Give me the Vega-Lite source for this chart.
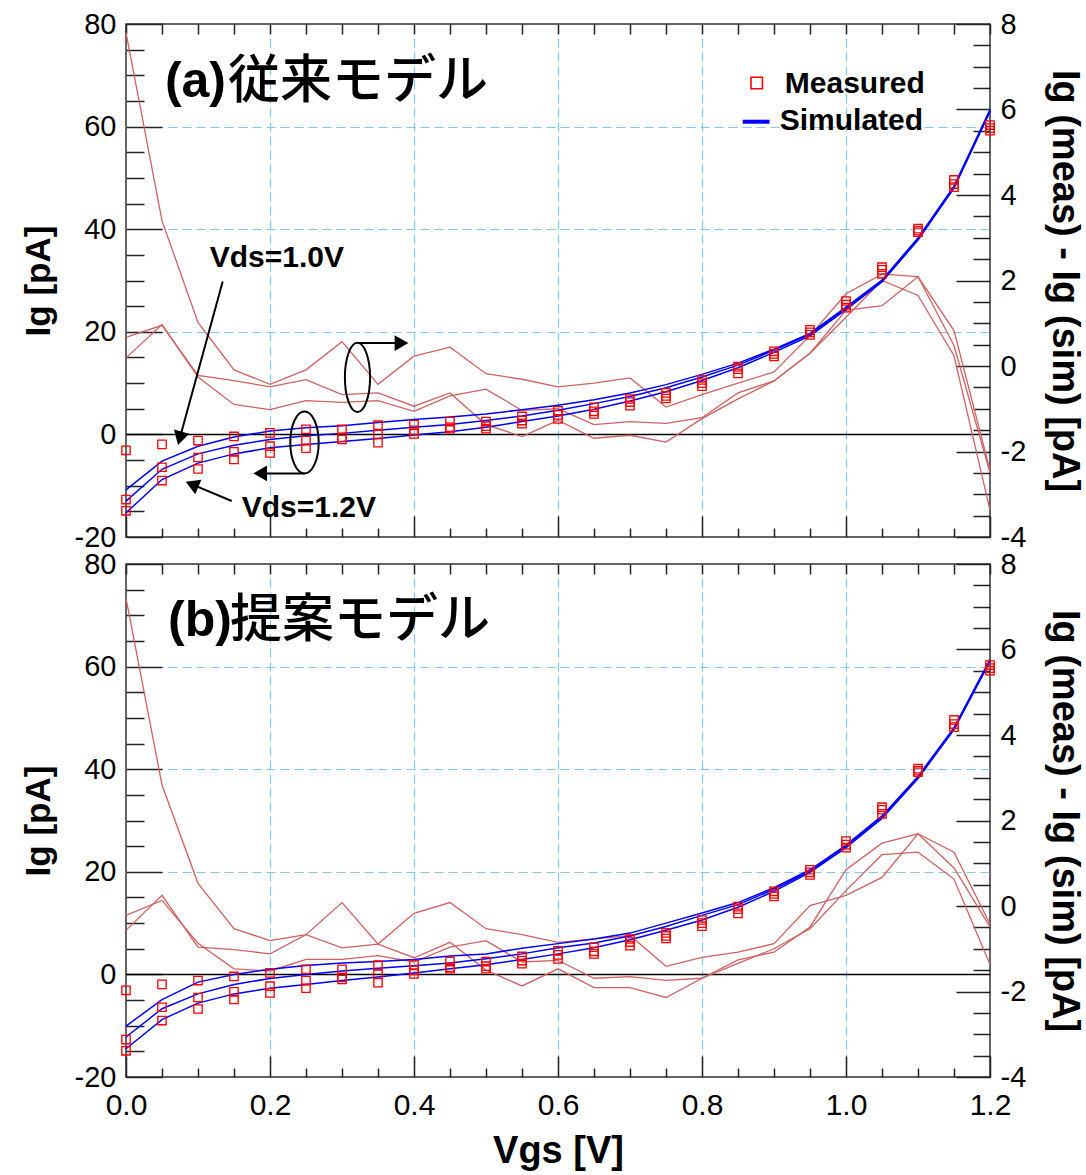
{
"$schema": "https://vega.github.io/schema/vega-lite/v6.json",
"padding": {"left": 20, "top": 9, "right": 5, "bottom": 5},
"background": "white",
"config": {
  "font": "Liberation Sans",
  "view": {"stroke": "#333333", "strokeWidth": 1.5},
  "axis": {"labelFont": "Liberation Sans", "titleFont": "Liberation Sans", "labelColor": "#000000", "titleColor": "#000000", "tickColor": "#222222", "tickWidth": 1.5, "domain": false, "labelOverlap": false, "labelFlush": false, "labelBound": false}
},
"datasets": {
"meas": [
{"s":1,"vgs":0,"ig":-3.1},{"s":1,"vgs":0.05,"ig":-1.95},{"s":1,"vgs":0.1,"ig":-1.2},{"s":1,"vgs":0.15,"ig":-0.4},{"s":1,"vgs":0.2,"ig":0.3},{"s":1,"vgs":0.25,"ig":1.0},{"s":1,"vgs":0.3,"ig":1.0},{"s":1,"vgs":0.35,"ig":1.8},{"s":1,"vgs":0.4,"ig":1.9},{"s":1,"vgs":0.45,"ig":2.5},{"s":1,"vgs":0.5,"ig":2.5},{"s":1,"vgs":0.55,"ig":3.5},{"s":1,"vgs":0.6,"ig":4.6},{"s":1,"vgs":0.65,"ig":5.3},{"s":1,"vgs":0.7,"ig":6.9},{"s":1,"vgs":0.75,"ig":8.1},{"s":1,"vgs":0.8,"ig":10.6},{"s":1,"vgs":0.85,"ig":13.2},{"s":1,"vgs":0.9,"ig":16.2},{"s":1,"vgs":0.95,"ig":20.4},{"s":1,"vgs":1,"ig":26.0},{"s":1,"vgs":1.05,"ig":32.6},{"s":1,"vgs":1.1,"ig":40.1},{"s":1,"vgs":1.15,"ig":49.6},{"s":1,"vgs":1.2,"ig":60.3},
{"s":2,"vgs":0,"ig":-12.7},{"s":2,"vgs":0.05,"ig":-6.4},{"s":2,"vgs":0.1,"ig":-4.5},{"s":2,"vgs":0.15,"ig":-3.4},{"s":2,"vgs":0.2,"ig":-2.3},{"s":2,"vgs":0.25,"ig":-1.2},{"s":2,"vgs":0.3,"ig":-0.6},{"s":2,"vgs":0.35,"ig":0.0},{"s":2,"vgs":0.4,"ig":0.8},{"s":2,"vgs":0.45,"ig":1.4},{"s":2,"vgs":0.5,"ig":1.6},{"s":2,"vgs":0.55,"ig":2.7},{"s":2,"vgs":0.6,"ig":3.8},{"s":2,"vgs":0.65,"ig":4.5},{"s":2,"vgs":0.7,"ig":6.3},{"s":2,"vgs":0.75,"ig":7.5},{"s":2,"vgs":0.8,"ig":10.0},{"s":2,"vgs":0.85,"ig":12.7},{"s":2,"vgs":0.9,"ig":15.7},{"s":2,"vgs":0.95,"ig":19.9},{"s":2,"vgs":1,"ig":25.3},{"s":2,"vgs":1.05,"ig":32.1},{"s":2,"vgs":1.1,"ig":39.7},{"s":2,"vgs":1.15,"ig":48.8},{"s":2,"vgs":1.2,"ig":59.7},
{"s":3,"vgs":0,"ig":-14.9},{"s":3,"vgs":0.05,"ig":-9.0},{"s":3,"vgs":0.1,"ig":-6.75},{"s":3,"vgs":0.15,"ig":-4.9},{"s":3,"vgs":0.2,"ig":-3.6},{"s":3,"vgs":0.25,"ig":-2.7},{"s":3,"vgs":0.3,"ig":-1.0},{"s":3,"vgs":0.35,"ig":-1.6},{"s":3,"vgs":0.4,"ig":0.1},{"s":3,"vgs":0.45,"ig":1.1},{"s":3,"vgs":0.5,"ig":1.1},{"s":3,"vgs":0.55,"ig":2.1},{"s":3,"vgs":0.6,"ig":3.0},{"s":3,"vgs":0.65,"ig":4.0},{"s":3,"vgs":0.7,"ig":5.6},{"s":3,"vgs":0.75,"ig":7.0},{"s":3,"vgs":0.8,"ig":9.4},{"s":3,"vgs":0.85,"ig":11.9},{"s":3,"vgs":0.9,"ig":15.2},{"s":3,"vgs":0.95,"ig":19.4},{"s":3,"vgs":1,"ig":24.7},{"s":3,"vgs":1.05,"ig":31.3},{"s":3,"vgs":1.1,"ig":39.4},{"s":3,"vgs":1.15,"ig":48.2},{"s":3,"vgs":1.2,"ig":59.2}
],
"sim": [
{"panel":"a","c":1,"vgs":0,"ig":-10.8},{"panel":"a","c":1,"vgs":0.05,"ig":-5.2},{"panel":"a","c":1,"vgs":0.1,"ig":-2.3},{"panel":"a","c":1,"vgs":0.15,"ig":-0.5},{"panel":"a","c":1,"vgs":0.2,"ig":0.65},{"panel":"a","c":1,"vgs":0.25,"ig":1.3},{"panel":"a","c":1,"vgs":0.3,"ig":1.7},{"panel":"a","c":1,"vgs":0.35,"ig":2.3},{"panel":"a","c":1,"vgs":0.4,"ig":2.9},{"panel":"a","c":1,"vgs":0.45,"ig":3.4},{"panel":"a","c":1,"vgs":0.5,"ig":4.0},{"panel":"a","c":1,"vgs":0.55,"ig":4.8},{"panel":"a","c":1,"vgs":0.6,"ig":5.7},{"panel":"a","c":1,"vgs":0.65,"ig":6.75},{"panel":"a","c":1,"vgs":0.7,"ig":8.05},{"panel":"a","c":1,"vgs":0.75,"ig":9.7},{"panel":"a","c":1,"vgs":0.8,"ig":11.7},{"panel":"a","c":1,"vgs":0.85,"ig":13.9},{"panel":"a","c":1,"vgs":0.9,"ig":16.6},{"panel":"a","c":1,"vgs":0.95,"ig":19.7},{"panel":"a","c":1,"vgs":1,"ig":24.8},{"panel":"a","c":1,"vgs":1.05,"ig":30.1},{"panel":"a","c":1,"vgs":1.1,"ig":38.3},{"panel":"a","c":1,"vgs":1.15,"ig":48.4},{"panel":"a","c":1,"vgs":1.2,"ig":63.3},
{"panel":"a","c":2,"vgs":0,"ig":-13.0},{"panel":"a","c":2,"vgs":0.05,"ig":-6.8},{"panel":"a","c":2,"vgs":0.1,"ig":-3.8},{"panel":"a","c":2,"vgs":0.15,"ig":-2.1},{"panel":"a","c":2,"vgs":0.2,"ig":-1.0},{"panel":"a","c":2,"vgs":0.25,"ig":-0.26},{"panel":"a","c":2,"vgs":0.3,"ig":0.2},{"panel":"a","c":2,"vgs":0.35,"ig":0.8},{"panel":"a","c":2,"vgs":0.4,"ig":1.4},{"panel":"a","c":2,"vgs":0.45,"ig":1.95},{"panel":"a","c":2,"vgs":0.5,"ig":2.7},{"panel":"a","c":2,"vgs":0.55,"ig":3.6},{"panel":"a","c":2,"vgs":0.6,"ig":4.7},{"panel":"a","c":2,"vgs":0.65,"ig":6.0},{"panel":"a","c":2,"vgs":0.7,"ig":7.4},{"panel":"a","c":2,"vgs":0.75,"ig":9.1},{"panel":"a","c":2,"vgs":0.8,"ig":11.2},{"panel":"a","c":2,"vgs":0.85,"ig":13.5},{"panel":"a","c":2,"vgs":0.9,"ig":16.4},{"panel":"a","c":2,"vgs":0.95,"ig":19.5},{"panel":"a","c":2,"vgs":1,"ig":24.5},{"panel":"a","c":2,"vgs":1.05,"ig":29.9},{"panel":"a","c":2,"vgs":1.1,"ig":38.1},{"panel":"a","c":2,"vgs":1.15,"ig":48.2},{"panel":"a","c":2,"vgs":1.2,"ig":63.1},
{"panel":"a","c":3,"vgs":0,"ig":-15.3},{"panel":"a","c":3,"vgs":0.05,"ig":-8.8},{"panel":"a","c":3,"vgs":0.1,"ig":-5.6},{"panel":"a","c":3,"vgs":0.15,"ig":-3.8},{"panel":"a","c":3,"vgs":0.2,"ig":-2.6},{"panel":"a","c":3,"vgs":0.25,"ig":-1.95},{"panel":"a","c":3,"vgs":0.3,"ig":-1.4},{"panel":"a","c":3,"vgs":0.35,"ig":-0.8},{"panel":"a","c":3,"vgs":0.4,"ig":-0.1},{"panel":"a","c":3,"vgs":0.45,"ig":0.5},{"panel":"a","c":3,"vgs":0.5,"ig":1.4},{"panel":"a","c":3,"vgs":0.55,"ig":2.5},{"panel":"a","c":3,"vgs":0.6,"ig":3.6},{"panel":"a","c":3,"vgs":0.65,"ig":4.9},{"panel":"a","c":3,"vgs":0.7,"ig":6.5},{"panel":"a","c":3,"vgs":0.75,"ig":8.3},{"panel":"a","c":3,"vgs":0.8,"ig":10.5},{"panel":"a","c":3,"vgs":0.85,"ig":13.0},{"panel":"a","c":3,"vgs":0.9,"ig":16.0},{"panel":"a","c":3,"vgs":0.95,"ig":19.2},{"panel":"a","c":3,"vgs":1,"ig":24.3},{"panel":"a","c":3,"vgs":1.05,"ig":29.7},{"panel":"a","c":3,"vgs":1.1,"ig":37.9},{"panel":"a","c":3,"vgs":1.15,"ig":48.0},{"panel":"a","c":3,"vgs":1.2,"ig":62.9},
{"panel":"b","c":1,"vgs":0,"ig":-10.1},{"panel":"b","c":1,"vgs":0.05,"ig":-4.9},{"panel":"b","c":1,"vgs":0.1,"ig":-1.5},{"panel":"b","c":1,"vgs":0.15,"ig":0.0},{"panel":"b","c":1,"vgs":0.2,"ig":1.0},{"panel":"b","c":1,"vgs":0.25,"ig":1.75},{"panel":"b","c":1,"vgs":0.3,"ig":2.2},{"panel":"b","c":1,"vgs":0.35,"ig":2.5},{"panel":"b","c":1,"vgs":0.4,"ig":2.9},{"panel":"b","c":1,"vgs":0.45,"ig":3.6},{"panel":"b","c":1,"vgs":0.5,"ig":4.0},{"panel":"b","c":1,"vgs":0.55,"ig":5.1},{"panel":"b","c":1,"vgs":0.6,"ig":6.0},{"panel":"b","c":1,"vgs":0.65,"ig":6.9},{"panel":"b","c":1,"vgs":0.7,"ig":8.05},{"panel":"b","c":1,"vgs":0.75,"ig":10.0},{"panel":"b","c":1,"vgs":0.8,"ig":11.95},{"panel":"b","c":1,"vgs":0.85,"ig":14.0},{"panel":"b","c":1,"vgs":0.9,"ig":16.9},{"panel":"b","c":1,"vgs":0.95,"ig":20.4},{"panel":"b","c":1,"vgs":1,"ig":25.2},{"panel":"b","c":1,"vgs":1.05,"ig":30.9},{"panel":"b","c":1,"vgs":1.1,"ig":38.6},{"panel":"b","c":1,"vgs":1.15,"ig":48.1},{"panel":"b","c":1,"vgs":1.2,"ig":61.4},
{"panel":"b","c":2,"vgs":0,"ig":-12.2},{"panel":"b","c":2,"vgs":0.05,"ig":-6.7},{"panel":"b","c":2,"vgs":0.1,"ig":-3.8},{"panel":"b","c":2,"vgs":0.15,"ig":-1.95},{"panel":"b","c":2,"vgs":0.2,"ig":-0.8},{"panel":"b","c":2,"vgs":0.25,"ig":0.0},{"panel":"b","c":2,"vgs":0.3,"ig":0.65},{"panel":"b","c":2,"vgs":0.35,"ig":1.2},{"panel":"b","c":2,"vgs":0.4,"ig":1.7},{"panel":"b","c":2,"vgs":0.45,"ig":2.2},{"panel":"b","c":2,"vgs":0.5,"ig":3.05},{"panel":"b","c":2,"vgs":0.55,"ig":4.0},{"panel":"b","c":2,"vgs":0.6,"ig":5.2},{"panel":"b","c":2,"vgs":0.65,"ig":6.1},{"panel":"b","c":2,"vgs":0.7,"ig":7.5},{"panel":"b","c":2,"vgs":0.75,"ig":9.35},{"panel":"b","c":2,"vgs":0.8,"ig":11.5},{"panel":"b","c":2,"vgs":0.85,"ig":13.6},{"panel":"b","c":2,"vgs":0.9,"ig":16.6},{"panel":"b","c":2,"vgs":0.95,"ig":20.1},{"panel":"b","c":2,"vgs":1,"ig":24.9},{"panel":"b","c":2,"vgs":1.05,"ig":30.6},{"panel":"b","c":2,"vgs":1.1,"ig":38.4},{"panel":"b","c":2,"vgs":1.15,"ig":47.9},{"panel":"b","c":2,"vgs":1.2,"ig":61.2},
{"panel":"b","c":3,"vgs":0,"ig":-14.5},{"panel":"b","c":3,"vgs":0.05,"ig":-8.8},{"panel":"b","c":3,"vgs":0.1,"ig":-5.6},{"panel":"b","c":3,"vgs":0.15,"ig":-3.8},{"panel":"b","c":3,"vgs":0.2,"ig":-2.7},{"panel":"b","c":3,"vgs":0.25,"ig":-1.95},{"panel":"b","c":3,"vgs":0.3,"ig":-1.2},{"panel":"b","c":3,"vgs":0.35,"ig":-0.5},{"panel":"b","c":3,"vgs":0.4,"ig":0.26},{"panel":"b","c":3,"vgs":0.45,"ig":1.1},{"panel":"b","c":3,"vgs":0.5,"ig":1.9},{"panel":"b","c":3,"vgs":0.55,"ig":2.9},{"panel":"b","c":3,"vgs":0.6,"ig":4.0},{"panel":"b","c":3,"vgs":0.65,"ig":5.2},{"panel":"b","c":3,"vgs":0.7,"ig":6.75},{"panel":"b","c":3,"vgs":0.75,"ig":8.6},{"panel":"b","c":3,"vgs":0.8,"ig":10.6},{"panel":"b","c":3,"vgs":0.85,"ig":13.1},{"panel":"b","c":3,"vgs":0.9,"ig":16.2},{"panel":"b","c":3,"vgs":0.95,"ig":19.9},{"panel":"b","c":3,"vgs":1,"ig":24.7},{"panel":"b","c":3,"vgs":1.05,"ig":30.4},{"panel":"b","c":3,"vgs":1.1,"ig":38.2},{"panel":"b","c":3,"vgs":1.15,"ig":47.7},{"panel":"b","c":3,"vgs":1.2,"ig":61.0}
],
"diff": [
{"panel":"a","c":1,"vgs":0,"d":7.8},{"panel":"a","c":1,"vgs":0.05,"d":3.4},{"panel":"a","c":1,"vgs":0.1,"d":1.02},{"panel":"a","c":1,"vgs":0.15,"d":-0.09},{"panel":"a","c":1,"vgs":0.2,"d":-0.43},{"panel":"a","c":1,"vgs":0.25,"d":-0.09},{"panel":"a","c":1,"vgs":0.3,"d":0.57},{"panel":"a","c":1,"vgs":0.35,"d":-0.43},{"panel":"a","c":1,"vgs":0.4,"d":0.23},{"panel":"a","c":1,"vgs":0.45,"d":0.44},{"panel":"a","c":1,"vgs":0.5,"d":-0.18},{"panel":"a","c":1,"vgs":0.55,"d":-0.31},{"panel":"a","c":1,"vgs":0.6,"d":-0.49},{"panel":"a","c":1,"vgs":0.65,"d":-0.4},{"panel":"a","c":1,"vgs":0.7,"d":-0.28},{"panel":"a","c":1,"vgs":0.75,"d":-0.96},{"panel":"a","c":1,"vgs":0.8,"d":-0.67},{"panel":"a","c":1,"vgs":0.85,"d":-0.4},{"panel":"a","c":1,"vgs":0.9,"d":-0.14},{"panel":"a","c":1,"vgs":0.95,"d":0.71},{"panel":"a","c":1,"vgs":1,"d":1.69},{"panel":"a","c":1,"vgs":1.05,"d":2.15},{"panel":"a","c":1,"vgs":1.1,"d":2.09},{"panel":"a","c":1,"vgs":1.15,"d":0.83},{"panel":"a","c":1,"vgs":1.2,"d":-2.44},
{"panel":"a","c":2,"vgs":0,"d":0.67},{"panel":"a","c":2,"vgs":0.05,"d":0.95},{"panel":"a","c":2,"vgs":0.1,"d":-0.22},{"panel":"a","c":2,"vgs":0.15,"d":-0.34},{"panel":"a","c":2,"vgs":0.2,"d":-0.49},{"panel":"a","c":2,"vgs":0.25,"d":-0.32},{"panel":"a","c":2,"vgs":0.3,"d":-0.67},{"panel":"a","c":2,"vgs":0.35,"d":-0.63},{"panel":"a","c":2,"vgs":0.4,"d":-0.94},{"panel":"a","c":2,"vgs":0.45,"d":-0.63},{"panel":"a","c":2,"vgs":0.5,"d":-1.37},{"panel":"a","c":2,"vgs":0.55,"d":-1.65},{"panel":"a","c":2,"vgs":0.6,"d":-1.27},{"panel":"a","c":2,"vgs":0.65,"d":-1.69},{"panel":"a","c":2,"vgs":0.7,"d":-1.62},{"panel":"a","c":2,"vgs":0.75,"d":-1.78},{"panel":"a","c":2,"vgs":0.8,"d":-1.23},{"panel":"a","c":2,"vgs":0.85,"d":-0.77},{"panel":"a","c":2,"vgs":0.9,"d":-0.35},{"panel":"a","c":2,"vgs":0.95,"d":0.3},{"panel":"a","c":2,"vgs":1,"d":1.14},{"panel":"a","c":2,"vgs":1.05,"d":2.0},{"panel":"a","c":2,"vgs":1.1,"d":1.65},{"panel":"a","c":2,"vgs":1.15,"d":0.24},{"panel":"a","c":2,"vgs":1.2,"d":-3.37},
{"panel":"a","c":3,"vgs":0,"d":0.19},{"panel":"a","c":3,"vgs":0.05,"d":0.97},{"panel":"a","c":3,"vgs":0.1,"d":-0.26},{"panel":"a","c":3,"vgs":0.15,"d":-0.9},{"panel":"a","c":3,"vgs":0.2,"d":-1.02},{"panel":"a","c":3,"vgs":0.25,"d":-0.81},{"panel":"a","c":3,"vgs":0.3,"d":-0.85},{"panel":"a","c":3,"vgs":0.35,"d":-0.81},{"panel":"a","c":3,"vgs":0.4,"d":-1.06},{"panel":"a","c":3,"vgs":0.45,"d":-0.7},{"panel":"a","c":3,"vgs":0.5,"d":-0.54},{"panel":"a","c":3,"vgs":0.55,"d":-1.04},{"panel":"a","c":3,"vgs":0.6,"d":-1.0},{"panel":"a","c":3,"vgs":0.65,"d":-1.37},{"panel":"a","c":3,"vgs":0.7,"d":-1.3},{"panel":"a","c":3,"vgs":0.75,"d":-1.34},{"panel":"a","c":3,"vgs":0.8,"d":-1.21},{"panel":"a","c":3,"vgs":0.85,"d":-0.63},{"panel":"a","c":3,"vgs":0.9,"d":-0.35},{"panel":"a","c":3,"vgs":0.95,"d":0.3},{"panel":"a","c":3,"vgs":1,"d":1.3},{"panel":"a","c":3,"vgs":1.05,"d":1.41},{"panel":"a","c":3,"vgs":1.1,"d":2.09},{"panel":"a","c":3,"vgs":1.15,"d":0.48},{"panel":"a","c":3,"vgs":1.2,"d":-2.5},
{"panel":"b","c":1,"vgs":0,"d":7.2},{"panel":"b","c":1,"vgs":0.05,"d":2.83},{"panel":"b","c":1,"vgs":0.1,"d":0.53},{"panel":"b","c":1,"vgs":0.15,"d":-0.53},{"panel":"b","c":1,"vgs":0.2,"d":-0.81},{"panel":"b","c":1,"vgs":0.25,"d":-0.67},{"panel":"b","c":1,"vgs":0.3,"d":0.08},{"panel":"b","c":1,"vgs":0.35,"d":-0.89},{"panel":"b","c":1,"vgs":0.4,"d":-0.17},{"panel":"b","c":1,"vgs":0.45,"d":0.08},{"panel":"b","c":1,"vgs":0.5,"d":-0.53},{"panel":"b","c":1,"vgs":0.55,"d":-0.67},{"panel":"b","c":1,"vgs":0.6,"d":-0.85},{"panel":"b","c":1,"vgs":0.65,"d":-0.77},{"panel":"b","c":1,"vgs":0.7,"d":-0.69},{"panel":"b","c":1,"vgs":0.75,"d":-1.41},{"panel":"b","c":1,"vgs":0.8,"d":-1.2},{"panel":"b","c":1,"vgs":0.85,"d":-1.08},{"panel":"b","c":1,"vgs":0.9,"d":-0.88},{"panel":"b","c":1,"vgs":0.95,"d":0.01},{"panel":"b","c":1,"vgs":1,"d":0.25},{"panel":"b","c":1,"vgs":1.05,"d":0.67},{"panel":"b","c":1,"vgs":1.1,"d":1.69},{"panel":"b","c":1,"vgs":1.15,"d":1.26},{"panel":"b","c":1,"vgs":1.2,"d":-0.42},
{"panel":"b","c":2,"vgs":0,"d":-0.22},{"panel":"b","c":2,"vgs":0.05,"d":0.13},{"panel":"b","c":2,"vgs":0.1,"d":-0.87},{"panel":"b","c":2,"vgs":0.15,"d":-1.47},{"panel":"b","c":2,"vgs":0.2,"d":-1.52},{"panel":"b","c":2,"vgs":0.25,"d":-1.25},{"panel":"b","c":2,"vgs":0.3,"d":-1.25},{"panel":"b","c":2,"vgs":0.35,"d":-1.16},{"panel":"b","c":2,"vgs":0.4,"d":-1.31},{"panel":"b","c":2,"vgs":0.45,"d":-0.96},{"panel":"b","c":2,"vgs":0.5,"d":-0.81},{"panel":"b","c":2,"vgs":0.55,"d":-1.31},{"panel":"b","c":2,"vgs":0.6,"d":-1.27},{"panel":"b","c":2,"vgs":0.65,"d":-1.69},{"panel":"b","c":2,"vgs":0.7,"d":-1.65},{"panel":"b","c":2,"vgs":0.75,"d":-1.74},{"panel":"b","c":2,"vgs":0.8,"d":-1.69},{"panel":"b","c":2,"vgs":0.85,"d":-1.26},{"panel":"b","c":2,"vgs":0.9,"d":-1.08},{"panel":"b","c":2,"vgs":0.95,"d":-0.49},{"panel":"b","c":2,"vgs":1,"d":0.85},{"panel":"b","c":2,"vgs":1.05,"d":1.47},{"panel":"b","c":2,"vgs":1.1,"d":1.69},{"panel":"b","c":2,"vgs":1.15,"d":0.89},{"panel":"b","c":2,"vgs":1.2,"d":-0.49},
{"panel":"b","c":3,"vgs":0,"d":-0.57},{"panel":"b","c":3,"vgs":0.05,"d":0.25},{"panel":"b","c":3,"vgs":0.1,"d":-0.96},{"panel":"b","c":3,"vgs":0.15,"d":-1.02},{"panel":"b","c":3,"vgs":0.2,"d":-1.12},{"panel":"b","c":3,"vgs":0.25,"d":-0.67},{"panel":"b","c":3,"vgs":0.3,"d":-0.98},{"panel":"b","c":3,"vgs":0.35,"d":-0.89},{"panel":"b","c":3,"vgs":0.4,"d":-1.21},{"panel":"b","c":3,"vgs":0.45,"d":-0.85},{"panel":"b","c":3,"vgs":0.5,"d":-1.5},{"panel":"b","c":3,"vgs":0.55,"d":-1.87},{"panel":"b","c":3,"vgs":0.6,"d":-1.47},{"panel":"b","c":3,"vgs":0.65,"d":-1.91},{"panel":"b","c":3,"vgs":0.7,"d":-1.91},{"panel":"b","c":3,"vgs":0.75,"d":-2.14},{"panel":"b","c":3,"vgs":0.8,"d":-1.69},{"panel":"b","c":3,"vgs":0.85,"d":-1.34},{"panel":"b","c":3,"vgs":0.9,"d":-1.0},{"panel":"b","c":3,"vgs":0.95,"d":-0.53},{"panel":"b","c":3,"vgs":1,"d":0.36},{"panel":"b","c":3,"vgs":1.05,"d":1.2},{"panel":"b","c":3,"vgs":1.1,"d":1.26},{"panel":"b","c":3,"vgs":1.15,"d":0.63},{"panel":"b","c":3,"vgs":1.2,"d":-1.37}
]
},
"spacing": 27,
"bounds": "flush",
"vconcat": [
{
 "width": 864, "height": 513,
 "layer": [
   {"data": {"values": [{"ig": 0}]}, "mark": {"type": "rule", "color": "#000000", "strokeWidth": 1.5},
    "encoding": {"y": {"field": "ig", "type": "quantitative", "scale": {"domain": [-20, 80], "nice": false, "zero": false},
      "axis": {"orient": "left", "values": [-20,-15,-10,-5,0,5,10,15,20,25,30,35,40,45,50,55,60,65,70,75,80],
       "labelExpr": "datum.value % 20 === 0 ? toString(datum.value) : ''", "labelFontSize": 29, "labelPadding": 46,
       "tickSize": {"condition": {"test": "datum.value % 20 === 0", "value": -36}, "value": -18},
       "grid": true, "gridColor": "#80c8f0", "gridDash": [9, 5], "gridWidth": 1.2,
       "gridOpacity": {"condition": {"test": "datum.value === 20 || datum.value === 40 || datum.value === 60", "value": 1}, "value": 0},
       "title": "Ig [pA]", "titleFontSize": 35, "titleFontWeight": "bold", "titlePadding": 18}}}},
   {"data": {"name": "diff"}, "transform": [{"filter": "datum.panel === 'a'"}],
    "mark": {"type": "line", "color": "#d06262", "strokeWidth": 1.3},
    "encoding": {
     "x": {"field": "vgs", "type": "quantitative", "scale": {"domain": [0, 1.2], "nice": false, "zero": false},
      "axis": {"orient": "top", "values": [0,0.05,0.1,0.15,0.2,0.25,0.3,0.35,0.4,0.45,0.5,0.55,0.6,0.65,0.7,0.75,0.8,0.85,0.9,0.95,1,1.05,1.1,1.15,1.2], "labels": false, "title": null, "tickSize": -10, "grid": false}},
     "y": {"field": "d", "type": "quantitative", "scale": {"domain": [-4, 8], "nice": false, "zero": false},
      "axis": {"orient": "right", "values": [-4,-3.5,-3,-2.5,-2,-1.5,-1,-0.5,0,0.5,1,1.5,2,2.5,3,3.5,4,4.5,5,5.5,6,6.5,7,7.5,8],
       "labelExpr": "datum.value % 2 === 0 ? toString(datum.value) : ''", "labelFontSize": 29, "labelPadding": 44,
       "tickSize": {"condition": {"test": "datum.value % 2 === 0", "value": -34}, "value": -17},
       "grid": false, "title": "Ig (meas) - Ig (sim) [pA]", "titleFontSize": 38, "titleFontWeight": "bold", "titlePadding": 19}},
     "detail": {"field": "c", "type": "nominal"}}},
   {"data": {"name": "sim"}, "transform": [{"filter": "datum.panel === 'a'"}],
    "mark": {"type": "line", "color": "#0000ff", "strokeWidth": 1.5},
    "encoding": {
     "x": {"field": "vgs", "type": "quantitative", "scale": {"domain": [0, 1.2], "nice": false, "zero": false},
      "axis": {"orient": "bottom", "values": [0,0.05,0.1,0.15,0.2,0.25,0.3,0.35,0.4,0.45,0.5,0.55,0.6,0.65,0.7,0.75,0.8,0.85,0.9,0.95,1,1.05,1.1,1.15,1.2],
       "labels": false, "title": null,
       "tickSize": {"condition": {"test": "datum.value==0||datum.value==0.2||datum.value==0.4||datum.value==0.6||datum.value==0.8||datum.value==1||datum.value==1.2", "value": -21}, "value": -9},
       "grid": true, "gridColor": "#80c8f0", "gridDash": [9, 5], "gridWidth": 1.2,
       "gridOpacity": {"condition": {"test": "datum.value==0.2||datum.value==0.4||datum.value==0.6||datum.value==0.8||datum.value==1", "value": 1}, "value": 0}}},
     "y": {"field": "ig", "type": "quantitative", "scale": {"domain": [-20, 80], "nice": false, "zero": false}, "axis": null},
     "detail": {"field": "c", "type": "nominal"}}},
   {"data": {"name": "meas"},
    "mark": {"type": "point", "shape": "square", "filled": false, "color": "#ff0000", "size": 70, "strokeWidth": 1.3, "opacity": 1},
    "encoding": {
     "x": {"field": "vgs", "type": "quantitative", "axis": null},
     "y": {"field": "ig", "type": "quantitative", "scale": {"domain": [-20, 80], "nice": false, "zero": false}, "axis": null},
     "detail": {"field": "s", "type": "nominal"}}},
   {"data": {"values": [{"vgs": 0.3215, "ig": 11.1}]},
    "mark": {"type": "point", "shape": "M0,-1C0.201,-1,0.364,-0.552,0.364,0C0.364,0.552,0.201,1,0,1C-0.201,1,-0.364,0.552,-0.364,0C-0.364,-0.552,-0.201,-1,0,-1Z", "size": 4789, "filled": false, "stroke": "#000000", "strokeWidth": 2, "opacity": 1},
    "encoding": {"x": {"field": "vgs", "type": "quantitative", "axis": null}, "y": {"field": "ig", "type": "quantitative", "scale": {"domain": [-20, 80], "nice": false, "zero": false}, "axis": null}}},
   {"data": {"values": [{"vgs": 0.2479, "ig": -1.56}]},
    "mark": {"type": "point", "shape": "M0,-1C0.253,-1,0.458,-0.552,0.458,0C0.458,0.552,0.253,1,0,1C-0.253,1,-0.458,0.552,-0.458,0C-0.458,-0.552,-0.253,-1,0,-1Z", "size": 3844, "filled": false, "stroke": "#000000", "strokeWidth": 2, "opacity": 1},
    "encoding": {"x": {"field": "vgs", "type": "quantitative", "axis": null}, "y": {"field": "ig", "type": "quantitative", "scale": {"domain": [-20, 80], "nice": false, "zero": false}, "axis": null}}},
   {"data": {"values": [
     {"vgs": 0.1343, "ig": 29.8, "vgs2": 0.0747, "ig2": -0.76},
     {"vgs": 0.1468, "ig": -12.99, "vgs2": 0.0917, "ig2": -9.74},
     {"vgs": 0.3215, "ig": 17.8, "vgs2": 0.385, "ig2": 17.8},
     {"vgs": 0.2479, "ig": -7.6, "vgs2": 0.184, "ig2": -7.6}]},
    "mark": {"type": "rule", "color": "#000000", "strokeWidth": 2},
    "encoding": {"x": {"field": "vgs", "type": "quantitative", "axis": null}, "y": {"field": "ig", "type": "quantitative", "scale": {"domain": [-20, 80], "nice": false, "zero": false}, "axis": null},
     "x2": {"field": "vgs2"}, "y2": {"field": "ig2"}}},
   {"data": {"values": [{"vgs": 0.0747, "ig": -0.76}]},
    "mark": {"type": "point", "shape": "triangle-up", "angle": 195.2, "size": 250, "filled": true, "color": "#000000", "opacity": 1},
    "encoding": {"x": {"field": "vgs", "type": "quantitative", "axis": null}, "y": {"field": "ig", "type": "quantitative", "scale": {"domain": [-20, 80], "nice": false, "zero": false}, "axis": null}}},
   {"data": {"values": [{"vgs": 0.0917, "ig": -9.74}]},
    "mark": {"type": "point", "shape": "triangle-up", "angle": 292.9, "size": 250, "filled": true, "color": "#000000", "opacity": 1},
    "encoding": {"x": {"field": "vgs", "type": "quantitative", "axis": null}, "y": {"field": "ig", "type": "quantitative", "scale": {"domain": [-20, 80], "nice": false, "zero": false}, "axis": null}}},
   {"data": {"values": [{"vgs": 0.3826, "ig": 17.8}]},
    "mark": {"type": "point", "shape": "triangle-up", "angle": 90, "size": 250, "filled": true, "color": "#000000", "opacity": 1},
    "encoding": {"x": {"field": "vgs", "type": "quantitative", "axis": null}, "y": {"field": "ig", "type": "quantitative", "scale": {"domain": [-20, 80], "nice": false, "zero": false}, "axis": null}}},
   {"data": {"values": [{"vgs": 0.1864, "ig": -7.6}]},
    "mark": {"type": "point", "shape": "triangle-up", "angle": 270, "size": 250, "filled": true, "color": "#000000", "opacity": 1},
    "encoding": {"x": {"field": "vgs", "type": "quantitative", "axis": null}, "y": {"field": "ig", "type": "quantitative", "scale": {"domain": [-20, 80], "nice": false, "zero": false}, "axis": null}}},
   {"data": {"values": [
     {"vgs": 0.054, "ig": 68.7, "t": "(a)"},
     {"vgs": 0.1163, "ig": 34.3, "t": "Vds=1.0V"},
     {"vgs": 0.1607, "ig": -14.3, "t": "Vds=1.2V"}]},
    "mark": {"type": "text", "font": "Liberation Sans", "fontWeight": "bold", "align": "left", "baseline": "middle", "color": "#000000"},
    "encoding": {"x": {"field": "vgs", "type": "quantitative", "axis": null}, "y": {"field": "ig", "type": "quantitative", "scale": {"domain": [-20, 80], "nice": false, "zero": false}, "axis": null}, "text": {"field": "t"},
     "size": {"condition": {"test": "datum.t === '(a)'", "value": 50}, "value": 30}}},
   {"data": {"values": [{"vgs": 0.1417, "ig": 68.7, "t": "従来モデル"}]},
    "mark": {"type": "text", "font": "Noto Sans CJK JP", "fontWeight": 500, "fontSize": 52, "align": "left", "baseline": "middle", "color": "#000000"},
    "encoding": {"x": {"field": "vgs", "type": "quantitative", "axis": null}, "y": {"field": "ig", "type": "quantitative", "scale": {"domain": [-20, 80], "nice": false, "zero": false}, "axis": null}, "text": {"field": "t"}}},
   {"data": {"values": [{"vgs": 0.915, "ig": 68.4, "t": "Measured"}, {"vgs": 0.908, "ig": 61.0, "t": "Simulated"}]},
    "mark": {"type": "text", "font": "Liberation Sans", "fontWeight": "bold", "fontSize": 30, "align": "left", "baseline": "middle", "color": "#000000"},
    "encoding": {"x": {"field": "vgs", "type": "quantitative", "axis": null}, "y": {"field": "ig", "type": "quantitative", "scale": {"domain": [-20, 80], "nice": false, "zero": false}, "axis": null}, "text": {"field": "t"}}},
   {"data": {"values": [{"vgs": 0.876, "ig": 68.5}]},
    "mark": {"type": "point", "shape": "square", "filled": false, "color": "#ff0000", "size": 130, "strokeWidth": 1.6, "opacity": 1},
    "encoding": {"x": {"field": "vgs", "type": "quantitative", "axis": null}, "y": {"field": "ig", "type": "quantitative", "scale": {"domain": [-20, 80], "nice": false, "zero": false}, "axis": null}}},
   {"data": {"values": [{"vgs": 0.8565, "vgs2": 0.8938, "ig": 60.95}]},
    "mark": {"type": "rule", "color": "#0000ff", "strokeWidth": 4},
    "encoding": {"x": {"field": "vgs", "type": "quantitative", "axis": null}, "x2": {"field": "vgs2"}, "y": {"field": "ig", "type": "quantitative", "scale": {"domain": [-20, 80], "nice": false, "zero": false}, "axis": null}}}
 ],
 "resolve": {"scale": {"y": "independent"}, "axis": {"x": "independent", "y": "independent"}}
},
{
 "width": 864, "height": 513,
 "layer": [
   {"data": {"values": [{"ig": 0}]}, "mark": {"type": "rule", "color": "#000000", "strokeWidth": 1.5},
    "encoding": {"y": {"field": "ig", "type": "quantitative", "scale": {"domain": [-20, 80], "nice": false, "zero": false},
      "axis": {"orient": "left", "values": [-20,-15,-10,-5,0,5,10,15,20,25,30,35,40,45,50,55,60,65,70,75,80],
       "labelExpr": "datum.value % 20 === 0 ? toString(datum.value) : ''", "labelFontSize": 29, "labelPadding": 46,
       "tickSize": {"condition": {"test": "datum.value % 20 === 0", "value": -36}, "value": -18},
       "grid": true, "gridColor": "#80c8f0", "gridDash": [9, 5], "gridWidth": 1.2,
       "gridOpacity": {"condition": {"test": "datum.value === 20 || datum.value === 40 || datum.value === 60", "value": 1}, "value": 0},
       "title": "Ig [pA]", "titleFontSize": 35, "titleFontWeight": "bold", "titlePadding": 18}}}},
   {"data": {"name": "diff"}, "transform": [{"filter": "datum.panel === 'b'"}],
    "mark": {"type": "line", "color": "#d06262", "strokeWidth": 1.3},
    "encoding": {
     "x": {"field": "vgs", "type": "quantitative", "scale": {"domain": [0, 1.2], "nice": false, "zero": false},
      "axis": {"orient": "top", "values": [0,0.05,0.1,0.15,0.2,0.25,0.3,0.35,0.4,0.45,0.5,0.55,0.6,0.65,0.7,0.75,0.8,0.85,0.9,0.95,1,1.05,1.1,1.15,1.2], "labels": false, "title": null, "tickSize": -10, "grid": false}},
     "y": {"field": "d", "type": "quantitative", "scale": {"domain": [-4, 8], "nice": false, "zero": false},
      "axis": {"orient": "right", "values": [-4,-3.5,-3,-2.5,-2,-1.5,-1,-0.5,0,0.5,1,1.5,2,2.5,3,3.5,4,4.5,5,5.5,6,6.5,7,7.5,8],
       "labelExpr": "datum.value % 2 === 0 ? toString(datum.value) : ''", "labelFontSize": 29, "labelPadding": 44,
       "tickSize": {"condition": {"test": "datum.value % 2 === 0", "value": -34}, "value": -17},
       "grid": false, "title": "Ig (meas) - Ig (sim) [pA]", "titleFontSize": 38, "titleFontWeight": "bold", "titlePadding": 19}},
     "detail": {"field": "c", "type": "nominal"}}},
   {"data": {"name": "sim"}, "transform": [{"filter": "datum.panel === 'b'"}],
    "mark": {"type": "line", "color": "#0000ff", "strokeWidth": 1.5},
    "encoding": {
     "x": {"field": "vgs", "type": "quantitative", "scale": {"domain": [0, 1.2], "nice": false, "zero": false},
      "axis": {"orient": "bottom", "values": [0,0.05,0.1,0.15,0.2,0.25,0.3,0.35,0.4,0.45,0.5,0.55,0.6,0.65,0.7,0.75,0.8,0.85,0.9,0.95,1,1.05,1.1,1.15,1.2],
       "labelExpr": "(datum.value==0||datum.value==0.2||datum.value==0.4||datum.value==0.6||datum.value==0.8||datum.value==1||datum.value==1.2) ? format(datum.value, '.1f') : ''",
       "labelFontSize": 30, "labelPadding": 34,
       "tickSize": {"condition": {"test": "datum.value==0||datum.value==0.2||datum.value==0.4||datum.value==0.6||datum.value==0.8||datum.value==1||datum.value==1.2", "value": -21}, "value": -9},
       "grid": true, "gridColor": "#80c8f0", "gridDash": [9, 5], "gridWidth": 1.2,
       "gridOpacity": {"condition": {"test": "datum.value==0.2||datum.value==0.4||datum.value==0.6||datum.value==0.8||datum.value==1", "value": 1}, "value": 0},
       "title": "Vgs [V]", "titleFontSize": 38, "titleFontWeight": "bold", "titlePadding": 0}},
     "y": {"field": "ig", "type": "quantitative", "scale": {"domain": [-20, 80], "nice": false, "zero": false}, "axis": null},
     "detail": {"field": "c", "type": "nominal"}}},
   {"data": {"name": "meas"},
    "mark": {"type": "point", "shape": "square", "filled": false, "color": "#ff0000", "size": 70, "strokeWidth": 1.3, "opacity": 1},
    "encoding": {
     "x": {"field": "vgs", "type": "quantitative", "axis": null},
     "y": {"field": "ig", "type": "quantitative", "scale": {"domain": [-20, 80], "nice": false, "zero": false}, "axis": null},
     "detail": {"field": "s", "type": "nominal"}}},
   {"data": {"values": [{"vgs": 0.0583, "ig": 68.9, "t": "(b)"}]},
    "mark": {"type": "text", "font": "Liberation Sans", "fontWeight": "bold", "fontSize": 50, "align": "left", "baseline": "middle", "color": "#000000"},
    "encoding": {"x": {"field": "vgs", "type": "quantitative", "axis": null}, "y": {"field": "ig", "type": "quantitative", "scale": {"domain": [-20, 80], "nice": false, "zero": false}, "axis": null}, "text": {"field": "t"}}},
   {"data": {"values": [{"vgs": 0.1444, "ig": 68.9, "t": "提案モデル"}]},
    "mark": {"type": "text", "font": "Noto Sans CJK JP", "fontWeight": 500, "fontSize": 52, "align": "left", "baseline": "middle", "color": "#000000"},
    "encoding": {"x": {"field": "vgs", "type": "quantitative", "axis": null}, "y": {"field": "ig", "type": "quantitative", "scale": {"domain": [-20, 80], "nice": false, "zero": false}, "axis": null}, "text": {"field": "t"}}}
 ],
 "resolve": {"scale": {"y": "independent"}, "axis": {"x": "independent", "y": "independent"}}
}
]
}
